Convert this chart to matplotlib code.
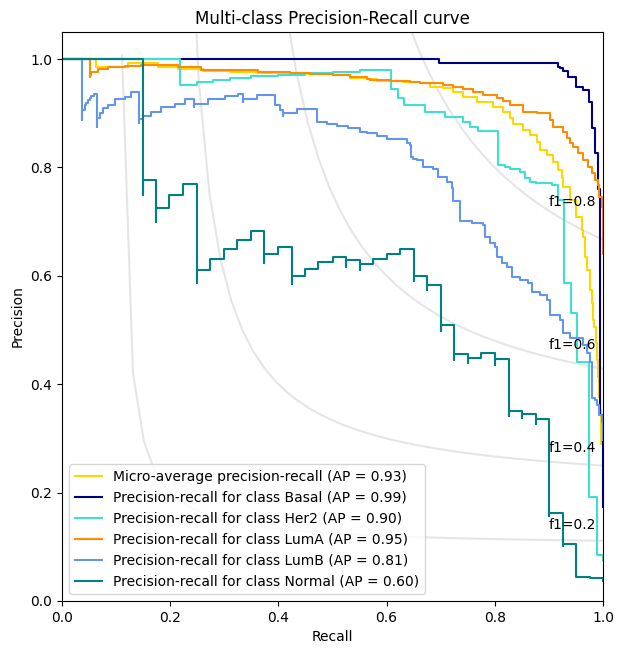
import numpy as np
import matplotlib
matplotlib.use("Agg")
import matplotlib.pyplot as plt

# ---- data (recall, precision vertices; drawn as steps) ----
classes = ["Basal", "Her2", "LumA", "LumB", "Normal"]
ap_micro = 0.93
ap_values = [0.99, 0.90, 0.95, 0.81, 0.60]
colors = ["navy", "turquoise", "darkorange", "cornflowerblue", "teal"]
f_scores = [0.2, 0.4, 0.6, 0.8]

micro_recall = [0.0, 0.0635, 0.122, 0.178, 0.215, 0.26, 0.31, 0.36, 0.4214, 0.458, 0.5015, 0.532,
                0.563, 0.5817, 0.631, 0.662, 0.680, 0.705, 0.7234, 0.742, 0.7665, 0.797, 0.8157,
                0.828, 0.834, 0.8527, 0.865, 0.8774, 0.8835, 0.896, 0.908, 0.917, 0.9236, 0.9266,
                0.939, 0.951, 0.9606, 0.9636, 0.9667, 0.9698, 0.976, 0.979, 0.982, 0.983, 0.987,
                0.9895, 0.991, 0.9932, 0.9945, 0.997, 1.0, 1.0]
micro_precision = [1.0, 1.0, 0.986, 0.993, 0.986, 0.9815, 0.978, 0.976, 0.975, 0.9729, 0.9717, 0.9698,
                   0.966, 0.964, 0.960, 0.958, 0.955, 0.949, 0.946, 0.9397, 0.9305, 0.921, 0.912,
                   0.903, 0.8905, 0.881, 0.869, 0.860, 0.8475, 0.832, 0.823, 0.8106, 0.795, 0.780,
                   0.764, 0.740, 0.709, 0.6845, 0.672, 0.635, 0.611, 0.574, 0.549, 0.518, 0.506,
                   0.4755, 0.4446, 0.414, 0.377, 0.352, 0.29, 0.23]

basal_recall = [0.0, 0.697, 0.9175, 0.9205, 0.9255, 0.936, 0.951, 0.9636, 0.974, 0.979, 0.985,
                0.990, 0.9945, 1.0, 1.0]
basal_precision = [1.0, 1.0, 0.992, 0.986, 0.983, 0.978, 0.967, 0.949, 0.943, 0.921, 0.872,
                   0.826, 0.761, 0.343, 0.174]

her2_recall = [0.0, 0.219, 0.25, 0.28, 0.31, 0.35, 0.40, 0.45, 0.50, 0.55, 0.609, 0.6217, 0.632,
               0.671, 0.708, 0.742, 0.754, 0.7695, 0.8065, 0.819, 0.828, 0.8466, 0.856, 0.865,
               0.877, 0.905, 0.917, 0.927, 0.940, 0.9526, 0.975, 0.9895, 1.0, 1.0]
her2_precision = [1.0, 1.0, 0.952, 0.957, 0.962, 0.965, 0.968, 0.971, 0.974, 0.977, 0.980, 0.944,
                  0.9275, 0.915, 0.903, 0.894, 0.8844, 0.875, 0.867, 0.8044, 0.801, 0.797, 0.792,
                  0.781, 0.774, 0.7706, 0.7675, 0.740, 0.586, 0.531, 0.4415, 0.192, 0.085, 0.0756]

luma_recall = [0.0, 0.051, 0.051, 0.054, 0.0665, 0.085, 0.116, 0.1466, 0.1775, 0.2144, 0.2575,
               0.363, 0.4214, 0.458, 0.5015, 0.532, 0.563, 0.569, 0.609, 0.643, 0.6617, 0.680,
               0.705, 0.7234, 0.742, 0.760, 0.7788, 0.8035, 0.8157, 0.828, 0.8527, 0.8774, 0.902,
               0.908, 0.9266, 0.933, 0.939, 0.945, 0.954, 0.9636, 0.973, 0.979, 0.985, 0.990,
               0.993, 0.9976, 1.0, 1.0]
luma_precision = [1.0, 1.0, 0.967, 0.9705, 0.9766, 0.9815, 0.9858, 0.988, 0.9896, 0.989, 0.9846,
                  0.9797, 0.9766, 0.9736, 0.9723, 0.9705, 0.9674, 0.9625, 0.961, 0.960, 0.958, 0.956,
                  0.955, 0.953, 0.949, 0.944, 0.9397, 0.9336, 0.9275, 0.923, 0.915, 0.903, 0.900,
                  0.8875, 0.875, 0.866, 0.8537, 0.8445, 0.838, 0.826, 0.8137, 0.801, 0.789, 0.777,
                  0.7675, 0.746, 0.7275, 0.64]

lumb_recall = [0.0, 0.037, 0.037, 0.042, 0.045, 0.048, 0.051, 0.054, 0.060, 0.065, 0.065, 0.0696,
               0.0758, 0.085, 0.0974, 0.1159, 0.128, 0.1423, 0.1423, 0.1497, 0.165, 0.1836, 0.208,
               0.2268, 0.244, 0.244, 0.270, 0.3007, 0.3253, 0.335, 0.335, 0.36, 0.3937, 0.403,
               0.408, 0.408, 0.434, 0.471, 0.489, 0.508, 0.529, 0.551, 0.563, 0.5817, 0.600, 0.637,
               0.643, 0.646, 0.649, 0.6556, 0.668, 0.6864, 0.6956, 0.711, 0.720, 0.7234, 0.7357,
               0.757, 0.7788, 0.782, 0.791, 0.800, 0.8035, 0.8128, 0.822, 0.831, 0.8466, 0.862,
               0.868, 0.8835, 0.896, 0.902, 0.9205, 0.9266, 0.939, 0.9636, 0.970, 0.976, 0.980,
               0.985, 0.9895, 0.9926, 0.9976, 1.0, 1.0]
lumb_precision = [1.0, 1.0, 0.887, 0.906, 0.915, 0.919, 0.924, 0.9287, 0.9323, 0.935, 0.875, 0.8905,
                  0.900, 0.909, 0.916, 0.9256, 0.930, 0.9386, 0.8825, 0.8887, 0.8948, 0.9028, 0.912,
                  0.918, 0.9256, 0.911, 0.918, 0.9256, 0.9317, 0.935, 0.921, 0.926, 0.9336, 0.915,
                  0.906, 0.8954, 0.900, 0.9077, 0.8843, 0.880, 0.8764, 0.872, 0.866, 0.863, 0.858,
                  0.852, 0.8445, 0.842, 0.8186, 0.815, 0.8137, 0.801, 0.798, 0.783, 0.7737, 0.7614,
                  0.7389, 0.702, 0.6968, 0.6937, 0.672, 0.660, 0.6537, 0.635, 0.623, 0.6157, 0.598,
                  0.592, 0.586, 0.5707, 0.5646, 0.5554, 0.5277, 0.518, 0.494, 0.4847, 0.4723, 0.457,
                  0.4415, 0.374, 0.371, 0.3616, 0.343, 0.331, 0.297]

normal_recall = [0.0, 0.150, 0.150, 0.174, 0.174, 0.198, 0.224, 0.250, 0.250, 0.274, 0.299, 0.324,
                 0.349, 0.374, 0.374, 0.399, 0.425, 0.425, 0.449, 0.474, 0.500, 0.525, 0.525,
                 0.550, 0.550, 0.574, 0.600, 0.625, 0.651, 0.651, 0.675, 0.675, 0.700, 0.700,
                 0.725, 0.725, 0.750, 0.750, 0.775, 0.800, 0.800, 0.826, 0.826, 0.851, 0.851,
                 0.876, 0.876, 0.901, 0.901, 0.926, 0.926, 0.951, 0.976, 1.0, 1.0]
normal_precision = [1.0, 1.0, 0.749, 0.777, 0.699, 0.726, 0.750, 0.769, 0.586, 0.611, 0.631, 0.649,
                    0.666, 0.682, 0.623, 0.640, 0.654, 0.585, 0.600, 0.613, 0.625, 0.635, 0.616,
                    0.629, 0.611, 0.621, 0.631, 0.641, 0.649, 0.590, 0.600, 0.574, 0.583, 0.499,
                    0.509, 0.445, 0.455, 0.439, 0.448, 0.457, 0.435, 0.446, 0.342, 0.351, 0.337,
                    0.346, 0.326, 0.336, 0.157, 0.162, 0.101, 0.106, 0.044, 0.043, 0.036]

class_recalls = [basal_recall, her2_recall, luma_recall, lumb_recall, normal_recall]
class_precisions = [basal_precision, her2_precision, luma_precision, lumb_precision, normal_precision]

# ---- figure ----
fig = plt.figure(figsize=(6.24, 6.55), dpi=100)
ax = fig.add_axes([62 / 624, 54 / 655, 541 / 624, 569 / 655])

for f_score in f_scores:
    x = np.linspace(0.01, 1)
    y = f_score * x / (2 * x - f_score)
    ax.plot(x[y >= 0], y[y >= 0], color="gray", alpha=0.2)
    ax.annotate("f1={0:0.1f}".format(f_score), xy=(0.9, y[45] + 0.02))

lines, labels = [], []
l, = ax.plot(micro_recall, micro_precision, color="gold", lw=1.5, drawstyle="steps-pre")
lines.append(l)
labels.append("Micro-average precision-recall (AP = {0:0.2f})".format(ap_micro))

for name, rec, prec, ap, col in zip(classes, class_recalls, class_precisions, ap_values, colors):
    l, = ax.plot(rec, prec, color=col, lw=1.5, drawstyle="steps-pre")
    lines.append(l)
    labels.append("Precision-recall for class {0} (AP = {1:0.2f})".format(name, ap))

ax.set_xlim([0.0, 1.0])
ax.set_ylim([0.0, 1.05])
ax.set_xlabel("Recall")
ax.set_ylabel("Precision")
ax.set_title("Multi-class Precision-Recall curve")
ax.legend(lines, labels, loc="lower left")

fig.savefig("out.png", dpi=100)
